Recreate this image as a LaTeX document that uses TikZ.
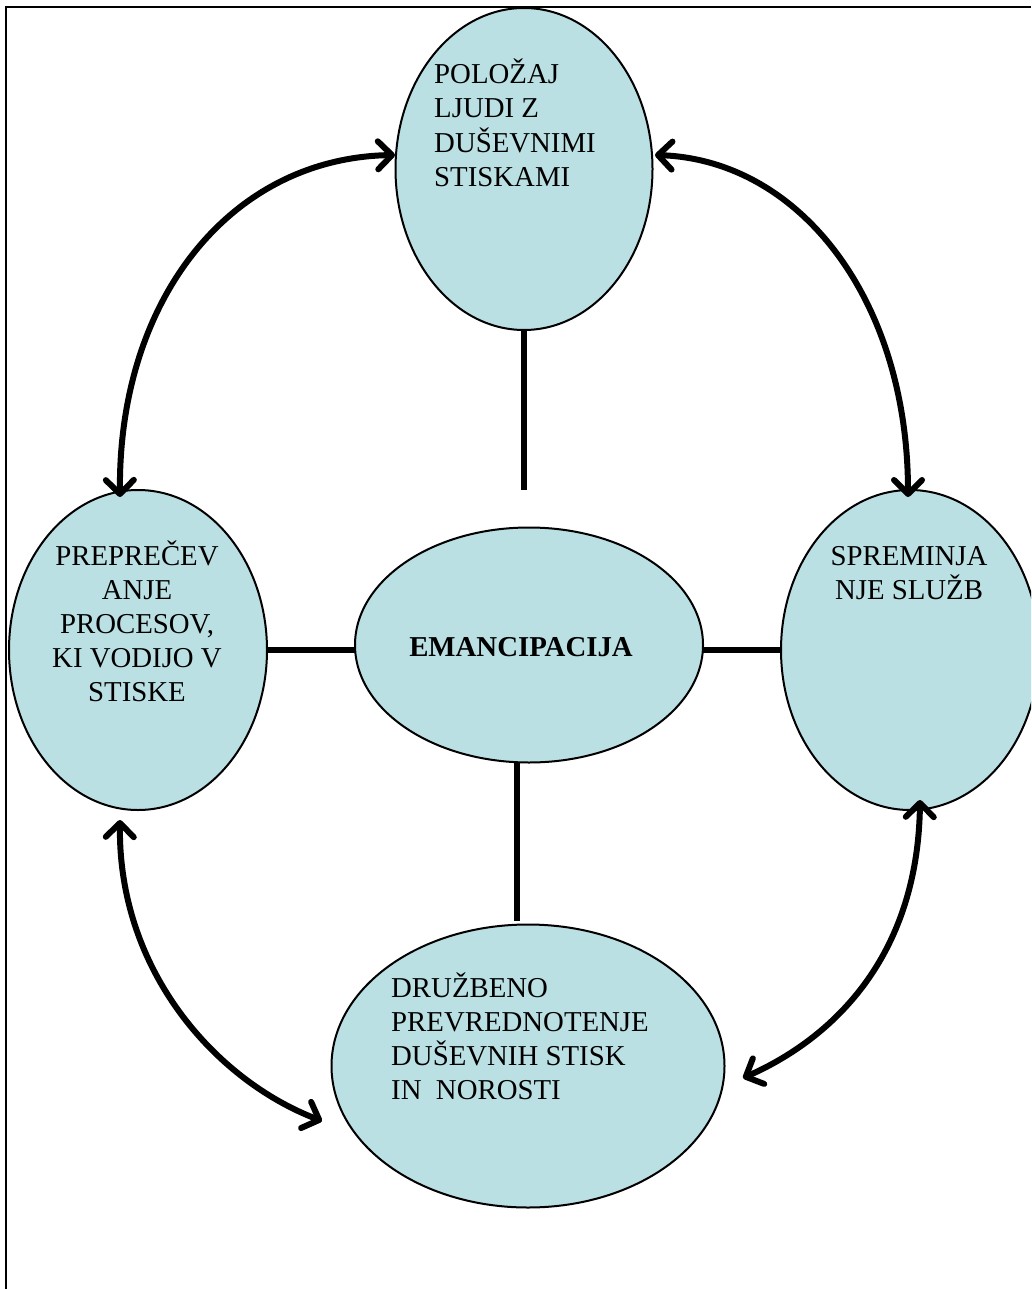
\documentclass[tikz,border=0pt]{standalone}
\usepackage{fontspec}
\setmainfont{Liberation Serif}
\usetikzlibrary{shapes.geometric,arrows.meta}
\definecolor{bubble}{RGB}{187,224,227}
\begin{document}
\begin{tikzpicture}[x=1pt,y=-1pt,
  bub/.style={ellipse,draw=black,fill=bubble,line width=2pt,inner sep=0pt},
  link/.style={line width=6pt},
  dbl/.style={line width=6pt,{Straight Barb[length=14pt,width=28pt,line cap=round,line join=round]}-{Straight Barb[length=14pt,width=28pt,line cap=round,line join=round]}},
  lbl/.style={inner sep=0pt,anchor=base west,font=\fontsize{28.8}{34}\selectfont}]
\useasboundingbox (0,0) rectangle (1031,1289);
\begin{scope}
\clip (0,0) rectangle (1031,1289);
% frame
\draw[line width=1.8pt] (6,1289) -- (6,7) -- (1031,7);
% ellipses
\node[bub,minimum width=257pt,minimum height=322pt] (top) at (524,169) {};
\node[bub,minimum width=258pt,minimum height=320pt] (left) at (138,650) {};
\node[bub,minimum width=258pt,minimum height=320pt] (right) at (910,650) {};
\node[bub,minimum width=348pt,minimum height=235pt] (ctr) at (529,645) {};
\node[bub,minimum width=393pt,minimum height=283pt] (bot) at (528,1066) {};
% labels
\node[lbl] (ttop) at (434,84) {\begin{tabular}[t]{@{}l@{}}POLOŽAJ\\LJUDI Z\\DUŠEVNIMI\\STISKAMI\end{tabular}};
\node[lbl,anchor=base] (tleft) at (137,565) {\begin{tabular}[t]{@{}c@{}}PREPREČEV\\ANJE\\PROCESOV,\\KI VODIJO V\\STISKE\end{tabular}};
\node[lbl,anchor=base] (tright) at (909,565) {\begin{tabular}[t]{@{}c@{}}SPREMINJA\\NJE SLUŽB\end{tabular}};
\node[lbl,anchor=base] (tctr) at (521,656) {\textbf{EMANCIPACIJA}};
\node[lbl] (tbot) at (391,997) {\begin{tabular}[t]{@{}l@{}}DRUŽBENO\\PREVREDNOTENJE\\DUŠEVNIH STISK\\IN\ \ NOROSTI\end{tabular}};
% straight links
\coordinate (ctop) at (524,490);
\coordinate (cb1) at (517,762);
\coordinate (cb2) at (517,921);
\coordinate (hl1) at (267,650);
\coordinate (hl2) at (355,650);
\coordinate (hr1) at (703,650);
\coordinate (hr2) at (781,650);
\draw[link] (top.south) -- (ctop);
\draw[link] (cb1) -- (cb2);
\draw[link] (hl1) -- (hl2);
\draw[link] (hr1) -- (hr2);
% curved double arrows
\coordinate (a1) at (395,155);
\coordinate (a2) at (120,497);
\coordinate (b1) at (655,155);
\coordinate (b2) at (908,497);
\coordinate (c1) at (120,820);
\coordinate (c2) at (322,1121);
\coordinate (d1) at (920,800);
\coordinate (d2) at (743,1078);
\draw[dbl] (a2) .. controls (118,300) and (230,158) .. (a1);
\draw[dbl] (b1) .. controls (800,160) and (908,300) .. (b2);
\draw[dbl] (c1) .. controls (118,970) and (215,1080) .. (c2);
\draw[dbl] (d1) .. controls (918,950) and (840,1035) .. (d2);
\end{scope}
\end{tikzpicture}
\end{document}
